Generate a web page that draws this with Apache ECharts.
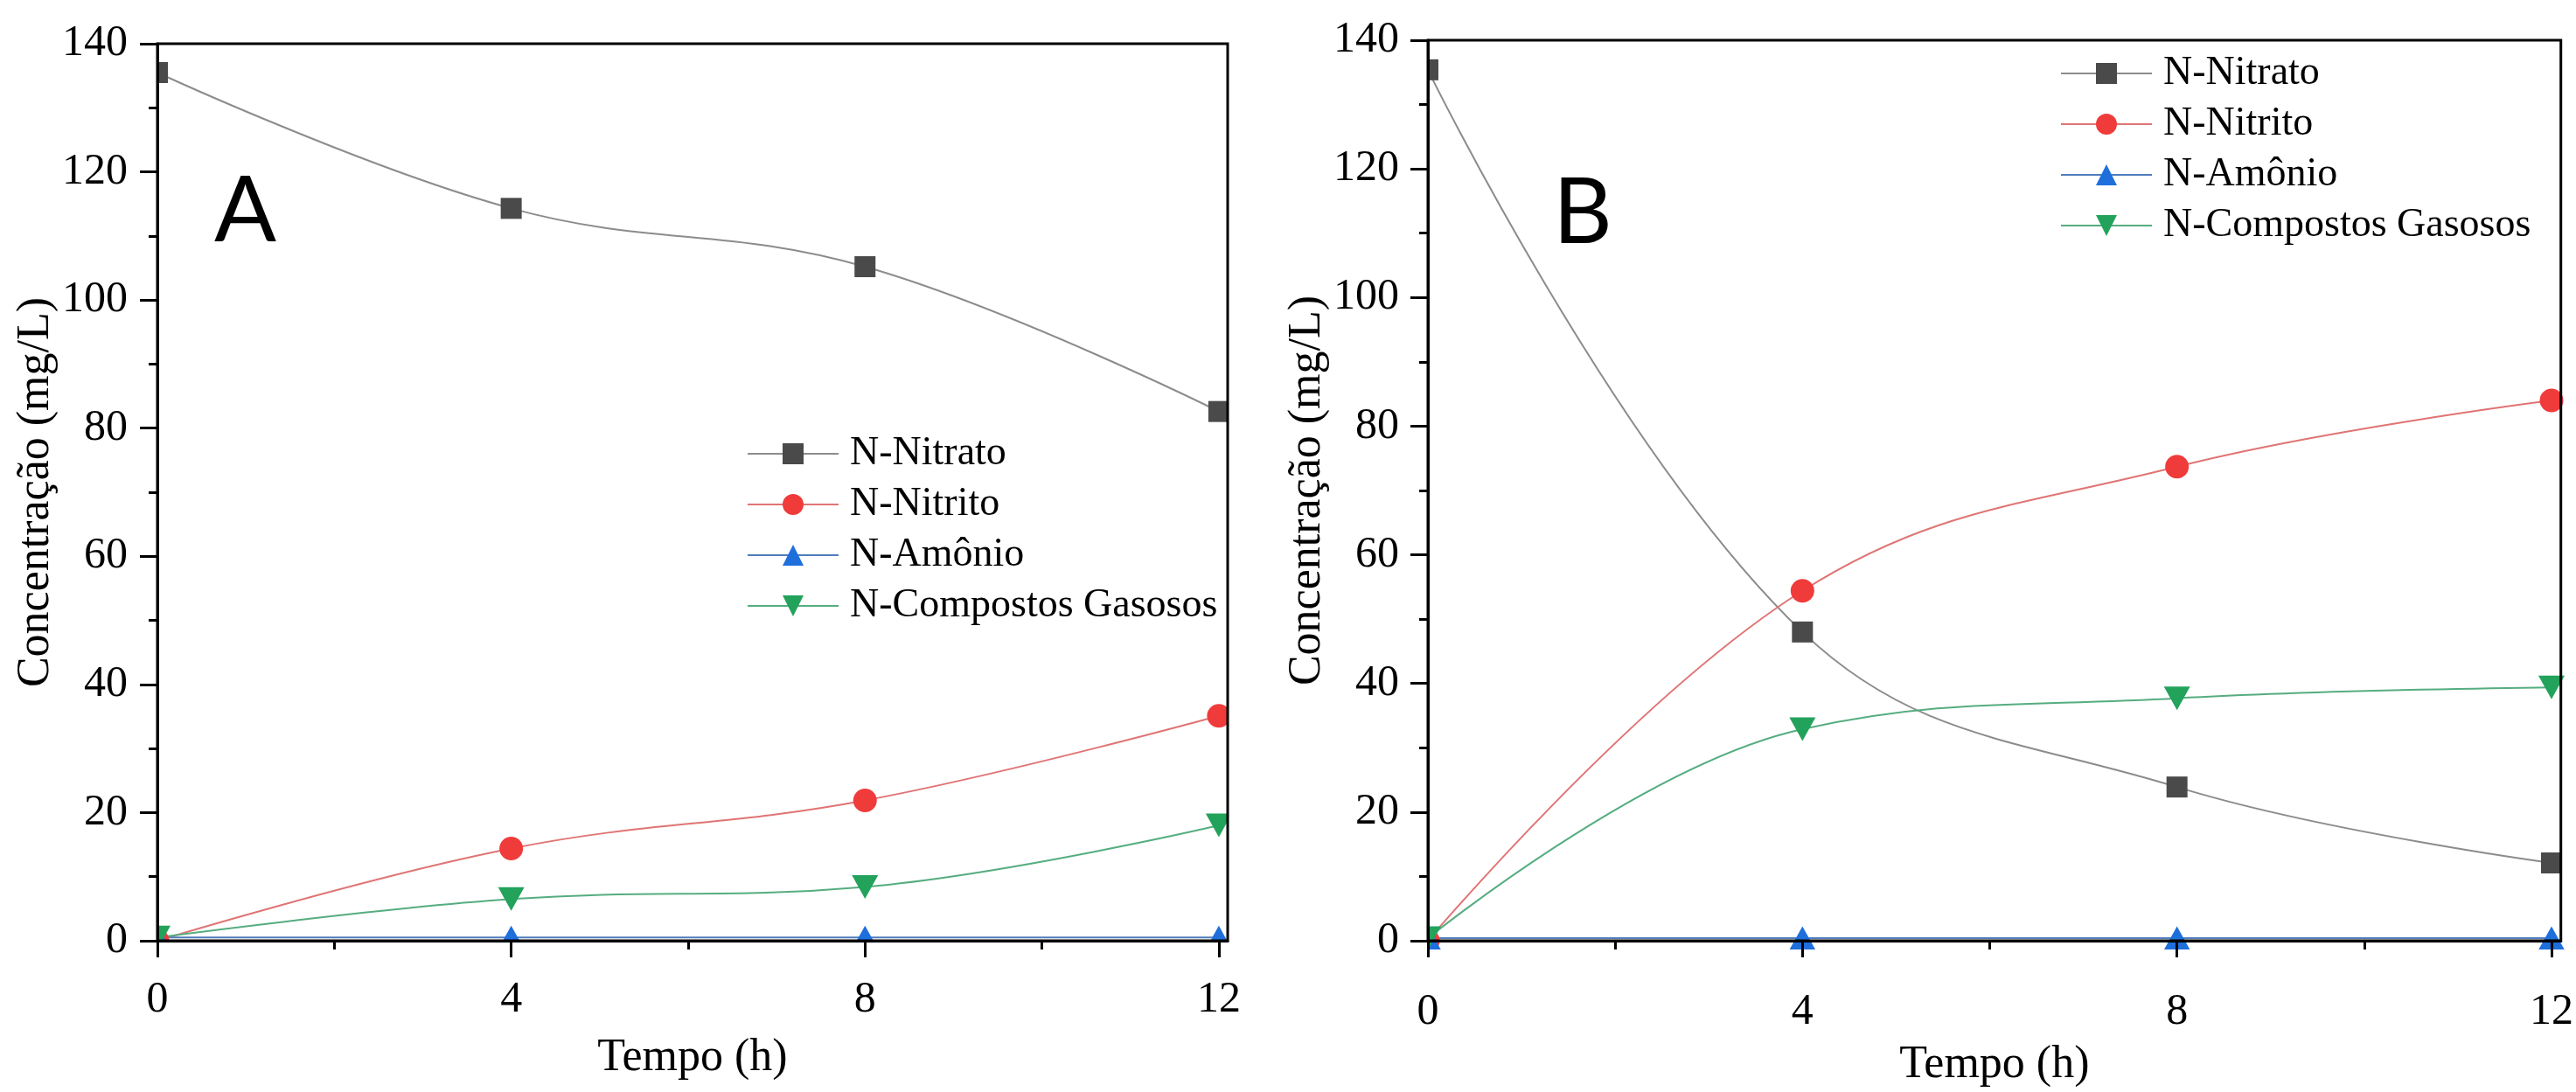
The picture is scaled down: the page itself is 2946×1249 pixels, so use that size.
<!DOCTYPE html>
<html><head><meta charset="utf-8">
<script src="https://cdn.jsdelivr.net/npm/echarts@6/dist/echarts.min.js"></script>
<style>html,body{margin:0;padding:0;background:#fff}#c{width:2946px;height:1249px}</style>
</head><body><div id="c"></div>
<script>
// ---------- data ----------
const hours = [0, 4, 8, 12];
const xTickValues = [0, 4, 8, 12];
const xMinorTickValues = [2, 6, 10];
const seriesNames = ['N-Nitrato', 'N-Nitrito', 'N-Amônio', 'N-Compostos Gasosos'];
const panelLabels = ['A', 'B'];
const xTitle = 'Tempo (h)';
const yTitle = 'Concentração (mg/L)';
// Panel A
const nitratoA = [135.5, 114.3, 105.2, 82.6];
const nitritoA = [0, 14.4, 21.9, 35.1];
const amonioA = [0.5, 0.5, 0.5, 0.5];
const gasososA = [0.5, 6.5, 8.4, 18.0];
// Panel B
const nitratoB = [135.4, 48.0, 23.9, 12.1];
const nitritoB = [0, 54.4, 73.7, 84.0];
const amonioB = [0.4, 0.4, 0.4, 0.4];
const gasososB = [0.4, 32.9, 37.7, 39.4];

// ---------- styles / layout ----------
const SERIF = '"Liberation Serif", "Times New Roman", serif';
const styles = [
  { symbol: 'rect', size: 24, color: '#4a4a4a', line: '#8c8c8c', rotate: 0 },
  { symbol: 'circle', size: 27, color: '#f03b3b', line: '#e07474', rotate: 0 },
  { symbol: 'triangle', size: [30, 27], color: '#1e6fdc', line: '#4f7dbd', rotate: 0 },
  { symbol: 'triangle', size: [30, 27], color: '#23a25c', line: '#55ad80', rotate: 180 }
];
const grids = [
  { left: 180, top: 50, width: 1224, height: 1026 },
  { left: 1633, top: 46, width: 1307, height: 1040 }
];
const panelCfg = [
  { yLabelFs: 50, yMargin: 34, xLabelFs: 50, xMargin: 43, yNameGap: 105, xNameGap: 108,
    legendLeft: 854, legendTop: 496, titleLeft: 245, titleTop: 190 },
  { yLabelFs: 50, yMargin: 33, xLabelFs: 50, xMargin: 57, yNameGap: 108, xNameGap: 116,
    legendLeft: 2356, legendTop: 61, titleLeft: 1776, titleTop: 192 }
];
const panelData = [
  [nitratoA, nitritoA, amonioA, gasososA],
  [nitratoB, nitritoB, amonioB, gasososB]
];

const lineBlack = { color: '#000', width: 3 };
const xAxes = [], yAxes = [], series = [], legends = [], titles = [], masks = [];

grids.forEach((g, gi) => {
  const c = panelCfg[gi];
  xAxes.push({
    type: 'value', gridIndex: gi, min: 0, max: 12.1, interval: 4, position: 'bottom', z: 10,
    axisLine: { show: true, onZero: false, lineStyle: lineBlack },
    axisTick: { show: true, length: 19, customValues: xTickValues, lineStyle: lineBlack },
    axisLabel: { customValues: xTickValues, fontSize: c.xLabelFs, fontFamily: SERIF, color: '#000', margin: c.xMargin },
    splitLine: { show: false },
    name: xTitle, nameLocation: 'middle', nameGap: c.xNameGap,
    nameTextStyle: { fontSize: 52, fontFamily: SERIF, color: '#000' }
  });
  xAxes.push({
    type: 'value', gridIndex: gi, min: 0, max: 12.1, interval: 4, position: 'bottom', z: 10,
    axisLine: { show: false, onZero: false },
    axisTick: { show: true, length: 10, customValues: xMinorTickValues, lineStyle: lineBlack },
    axisLabel: { show: false },
    splitLine: { show: false }
  });
  yAxes.push({
    type: 'value', gridIndex: gi, min: 0, max: 140, interval: 20, z: 10,
    axisLine: { show: true, onZero: false, lineStyle: lineBlack },
    axisTick: { show: true, length: 20, lineStyle: lineBlack },
    minorTick: { show: true, splitNumber: 2, length: 10, lineStyle: lineBlack },
    splitLine: { show: false }, minorSplitLine: { show: false },
    axisLabel: { fontSize: c.yLabelFs, fontFamily: SERIF, color: '#000', margin: c.yMargin },
    name: yTitle, nameLocation: 'middle', nameGap: c.yNameGap,
    nameTextStyle: { fontSize: 52, fontFamily: SERIF, color: '#000' }
  });
  panelData[gi].forEach((vals, si) => {
    const s = styles[si];
    series.push({
      type: 'line', name: seriesNames[si], xAxisIndex: gi * 2, yAxisIndex: gi,
      data: hours.map((h, k) => [h, vals[k]]),
      smooth: 0.4,
      symbol: s.symbol, symbolSize: s.size, symbolRotate: s.rotate,
      itemStyle: { color: s.color },
      lineStyle: { color: s.line, width: 2 },
      z: 2, animation: false
    });
  });
  legends.push({
    orient: 'vertical', left: c.legendLeft, top: c.legendTop, padding: 0, z: 20,
    itemWidth: 104, itemHeight: 30, itemGap: 12,
    data: seriesNames,
    selectedMode: false,
    textStyle: { fontSize: 46, fontFamily: SERIF, color: '#000', padding: [0, 0, 0, 8] }
  });
  titles.push({
    text: panelLabels[gi], left: c.titleLeft, top: c.titleTop, padding: 0,
    textStyle: { fontFamily: 'Lato, "Open Sans", sans-serif', fontSize: 105, fontWeight: 'normal', color: '#000' }
  });
  // white masks just outside the plot frame so edge markers are clipped like the original
  const b = 40;
  [[g.left - b, g.top - b, b, g.height + 2 * b],
   [g.left + g.width, g.top - b, b, g.height + 2 * b],
   [g.left - b, g.top - b, g.width + 2 * b, b],
   [g.left - b, g.top + g.height, g.width + 2 * b, b]].forEach(r => {
    masks.push({ type: 'rect', z: 5, silent: true, shape: { x: r[0], y: r[1], width: r[2], height: r[3] }, style: { fill: '#fff' } });
  });
});

const chart = echarts.init(document.getElementById('c'), null, { renderer: 'canvas' });
chart.setOption({
  backgroundColor: '#fff',
  animation: false,
  title: titles,
  legend: legends,
  grid: grids.map(g => Object.assign({ show: true, borderColor: '#000', borderWidth: 3, backgroundColor: 'transparent', z: 10, containLabel: false }, g)),
  xAxis: xAxes,
  yAxis: yAxes,
  series: series,
  graphic: masks
});
</script></body></html>
